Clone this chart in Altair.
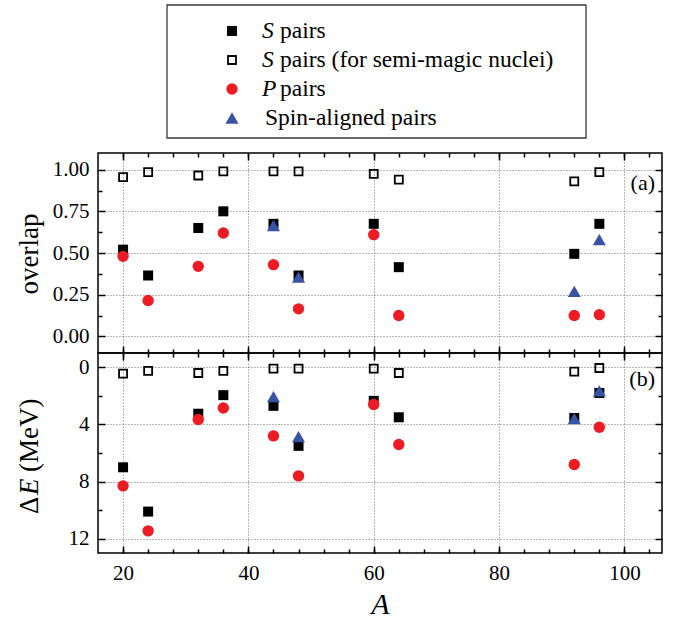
import altair as alt
import pandas as pd

# Mass numbers of the nuclei
A = [20, 24, 32, 36, 44, 48, 60, 64, 92, 96]
A_spin = [44, 48, 92, 96]

# Overlaps with the shell-model ground state
overlap_s = [0.52, 0.365, 0.65, 0.75, 0.675, 0.365, 0.675, 0.415, 0.495, 0.675]
overlap_s_semi = [0.955, 0.985, 0.965, 0.99, 0.99, 0.99, 0.975, 0.94, 0.93, 0.985]
overlap_p = [0.48, 0.215, 0.42, 0.62, 0.43, 0.165, 0.61, 0.125, 0.125, 0.13]
overlap_spin = [0.665, 0.355, 0.27, 0.58]

# Energy differences (MeV)
de_s = [7.0, 10.1, 3.25, 1.95, 2.7, 5.5, 2.35, 3.5, 3.55, 1.8]
de_s_semi = [0.45, 0.25, 0.4, 0.25, 0.1, 0.1, 0.1, 0.4, 0.3, 0.05]
de_p = [8.3, 11.45, 3.65, 2.85, 4.8, 7.6, 2.6, 5.4, 6.8, 4.2]
de_spin = [2.05, 4.85, 3.6, 1.65]

# Legend entries (italic symbol + plain remainder)
legend_italic = ["S", "S", "P", ""]
legend_rest = ["pairs", "pairs (for semi-magic nuclei)", "pairs", "Spin-aligned pairs"]
legend_keys = ["s", "s_semi", "p", "spin"]

# Axis tick positions
x_major = [20, 40, 60, 80, 100]
x_minor = list(range(20, 105, 4))
overlap_major = [0.0, 0.25, 0.5, 0.75, 1.0]
overlap_minor = [0.125, 0.375, 0.625, 0.875]
de_major = [0, 4, 8, 12]
de_minor = [2, 6, 10]

FONT = "Liberation Serif, Times New Roman, serif"
W, H = 564, 200
LEG_H = 148
LABEL_SIZE = 21
LEGEND_SIZE = 23.5

STYLES = {
    "s_semi": dict(shape="square", filled=False, color="black", size=64, strokeWidth=1.8, opacity=1),
    "s": dict(shape="square", filled=True, color="black", size=100, strokeWidth=0, opacity=1),
    "p": dict(shape="circle", filled=True, color="#ED1C24", size=130, strokeWidth=0, opacity=1),
    "spin": dict(shape="triangle-up", filled=True, color="#3953A4", size=170, strokeWidth=0, opacity=1),
}

one = pd.DataFrame({"k": [0]})


def tick_axis(orient, offset, values, size):
    return alt.Axis(orient=orient, offset=offset, values=values, ticks=True, tickSize=size,
                    tickWidth=1.5, tickColor="black", labels=False, domain=False,
                    grid=False, title=None)


def panel(series, ydom, yrev, ymaj, ymin, yfmt, bottom, tag, extra):
    xs = alt.Scale(domain=[16, 106], nice=False, zero=False)
    ys = alt.Scale(domain=ydom, reverse=yrev, nice=False, zero=False)
    grid = dict(grid=True, gridDash=[1, 2], gridColor="#6f6f6f", gridWidth=1)
    x_main = alt.Axis(orient="bottom", values=x_major, ticks=False, domain=False,
                      labels=bottom, labelFont=FONT, labelFontSize=LABEL_SIZE,
                      labelColor="black", labelPadding=9,
                      title="A" if bottom else None, titleFont=FONT, titleFontSize=30,
                      titleFontStyle="italic", titleFontWeight="normal", titlePadding=6,
                      titleColor="black", **grid)
    y_main = alt.Axis(orient="left", values=ymaj, format=yfmt, ticks=False, domain=False,
                      labelFont=FONT, labelFontSize=LABEL_SIZE, labelColor="black",
                      labelPadding=9, title=None, **grid)
    axes = [
        (x_main, y_main),
        (tick_axis("top", -H, x_major, 7), tick_axis("right", -W, ymaj, 7)),
        (tick_axis("top", -H, x_minor, 4), tick_axis("right", -W, ymin, 4)),
        (tick_axis("bottom", -H, x_major, 7), tick_axis("left", -W, ymaj, 7)),
        (tick_axis("bottom", -H, x_minor, 4), tick_axis("left", -W, ymin, 4)),
    ]
    layers = []
    order = ["s_semi", "s", "p", "spin"]
    for i, key in enumerate(order):
        xv, yv = series[key]
        df = pd.DataFrame({"A": xv, "y": yv})
        xa, ya = axes[i]
        layers.append(
            alt.Chart(df).mark_point(**STYLES[key]).encode(
                x=alt.X("A:Q", scale=xs, axis=xa),
                y=alt.Y("y:Q", scale=ys, axis=ya),
            )
        )
    xv, yv = series["s"]
    xa, ya = axes[4]
    layers.append(
        alt.Chart(pd.DataFrame({"A": xv, "y": yv})).mark_point(opacity=0).encode(
            x=alt.X("A:Q", scale=xs, axis=xa),
            y=alt.Y("y:Q", scale=ys, axis=ya),
        )
    )
    layers.append(
        alt.Chart(one).mark_text(text=tag, font=FONT, fontSize=22, align="right",
                                 baseline="middle", color="black").encode(
            x=alt.value(557), y=alt.value(30 if not bottom else 26))
    )
    layers.extend(extra)
    return alt.layer(*layers).resolve_axis(x="independent", y="independent").properties(
        width=W, height=H)


# y-axis titles drawn as rotated text
top_title = [
    alt.Chart(one).mark_text(text="overlap", font=FONT, fontSize=27, angle=270,
                             align="center", baseline="middle", color="black").encode(
        x=alt.value(-68), y=alt.value(101))
]
bottom_title = [
    alt.Chart(one).mark_text(text="Δ", font=FONT, fontSize=27, angle=270,
                             align="left", baseline="middle", color="black").encode(
        x=alt.value(-68), y=alt.value(161)),
    alt.Chart(one).mark_text(text="E", font=FONT, fontSize=27, angle=270, fontStyle="italic",
                             align="left", baseline="middle", color="black").encode(
        x=alt.value(-68), y=alt.value(142)),
    alt.Chart(one).mark_text(text="(MeV)", font=FONT, fontSize=27, angle=270,
                             align="left", baseline="middle", color="black").encode(
        x=alt.value(-68), y=alt.value(119)),
]

top = panel(
    {"s_semi": (A, overlap_s_semi), "s": (A, overlap_s), "p": (A, overlap_p),
     "spin": (A_spin, overlap_spin)},
    [-0.1, 1.1], False, overlap_major, overlap_minor, ".2f", False, "(a)", top_title)

bottom = panel(
    {"s_semi": (A, de_s_semi), "s": (A, de_s), "p": (A, de_p), "spin": (A_spin, de_spin)},
    [-1, 13], True, de_major, de_minor, "d", True, "(b)", bottom_title)

# Legend panel
legend_df = pd.DataFrame({"row": [0, 1, 2, 3], "key": legend_keys,
                          "italic": legend_italic, "rest": legend_rest})
row_y = alt.Y("row:Q", scale=alt.Scale(domain=[0, 3], range=[26, 113]), axis=None)

legend_layers = [
    alt.Chart(one).mark_rect(fillOpacity=0, stroke="#3a3a3a", strokeWidth=1.3).encode(
        x=alt.value(69), x2=alt.value(488), y=alt.value(0), y2=alt.value(133))
]
for key in legend_keys:
    legend_layers.append(
        alt.Chart(legend_df).transform_filter(alt.datum.key == key)
        .mark_point(**STYLES[key]).encode(x=alt.value(134), y=row_y)
    )
legend_layers.append(
    alt.Chart(legend_df).transform_filter(alt.datum.italic != "")
    .mark_text(font=FONT, fontSize=LEGEND_SIZE, fontStyle="italic", align="left",
               baseline="middle", color="black")
    .encode(x=alt.value(164), y=row_y, text="italic:N")
)
legend_layers.append(
    alt.Chart(legend_df).transform_filter(alt.datum.italic != "")
    .mark_text(font=FONT, fontSize=LEGEND_SIZE, align="left", baseline="middle", color="black")
    .encode(x=alt.value(182), y=row_y, text="rest:N")
)
legend_layers.append(
    alt.Chart(legend_df).transform_filter(alt.datum.italic == "")
    .mark_text(font=FONT, fontSize=LEGEND_SIZE, align="left", baseline="middle", color="black")
    .encode(x=alt.value(167), y=row_y, text="rest:N")
)
legend = alt.layer(*legend_layers).properties(
    width=W, height=LEG_H, view=alt.ViewBackground(stroke="transparent"))

chart = alt.vconcat(legend, top, bottom, spacing=0, bounds="flush").configure_view(
    stroke="black", strokeWidth=1.5
).configure_axis(
    labelFont=FONT, titleFont=FONT, labelColor="black", titleColor="black"
).configure_text(
    font=FONT
).properties(
    background="white", padding={"left": 15, "top": 3, "right": 5, "bottom": 0}
)

chart.save("out.html", embed_options={"renderer": "svg", "actions": False})
